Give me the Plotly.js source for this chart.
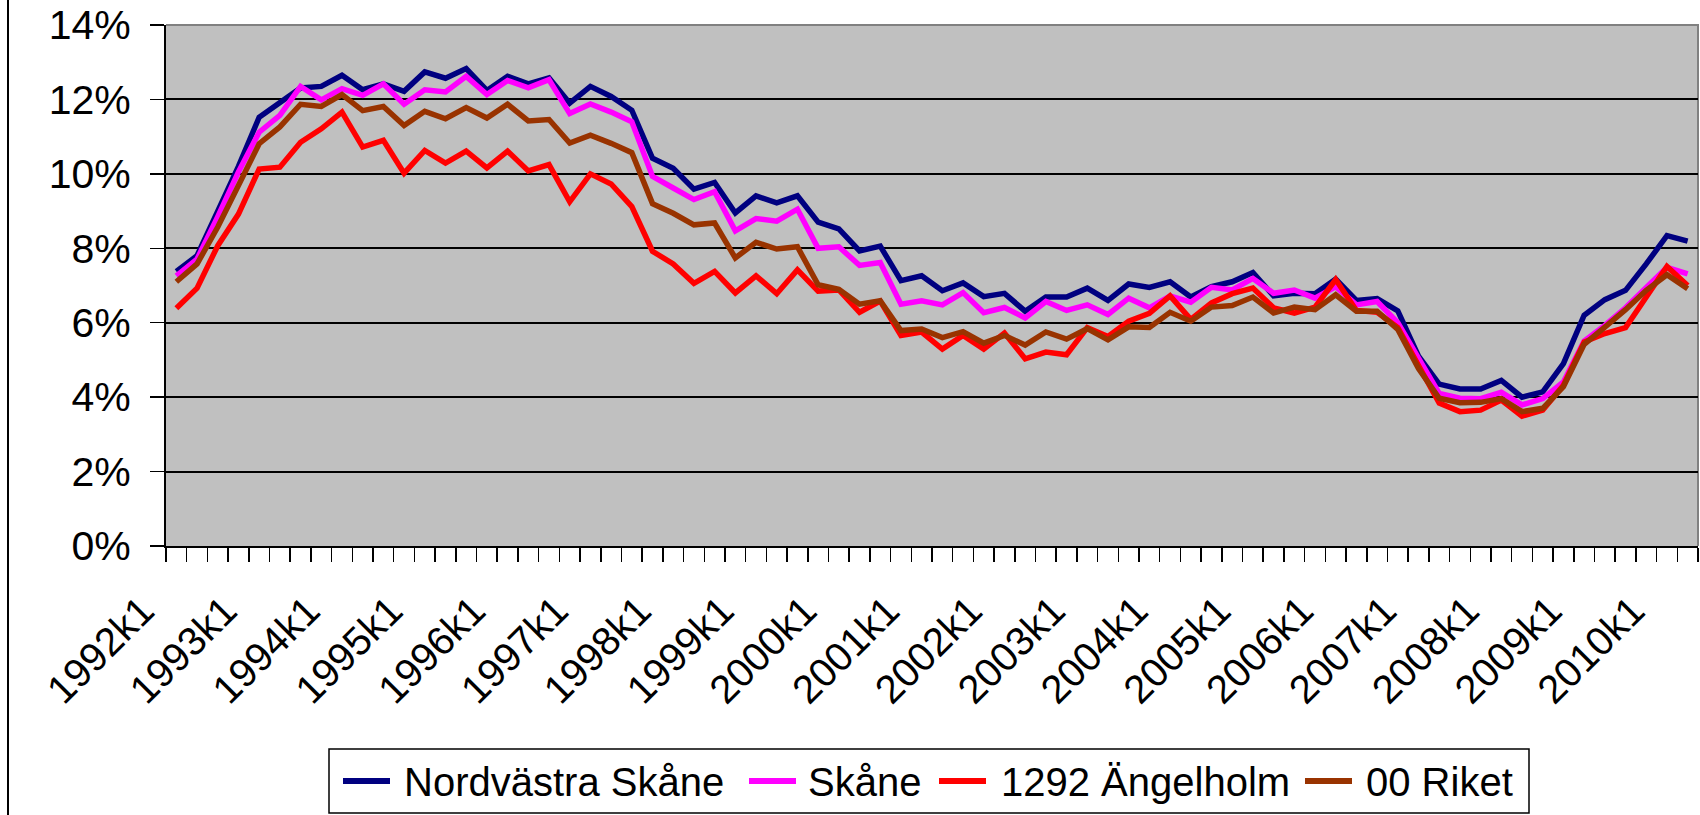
<!DOCTYPE html>
<html>
<head>
<meta charset="utf-8">
<script src="https://cdn.plot.ly/plotly-3.0.1.min.js"></script>
<style>html,body{margin:0;padding:0;background:#fff;}#chart{width:1700px;height:815px;}</style>
</head>
<body>
<div id="chart"></div>
<script>
var categories = [
"1992k1","1992k2","1992k3","1992k4","1993k1","1993k2","1993k3","1993k4",
"1994k1","1994k2","1994k3","1994k4","1995k1","1995k2","1995k3","1995k4",
"1996k1","1996k2","1996k3","1996k4","1997k1","1997k2","1997k3","1997k4",
"1998k1","1998k2","1998k3","1998k4","1999k1","1999k2","1999k3","1999k4",
"2000k1","2000k2","2000k3","2000k4","2001k1","2001k2","2001k3","2001k4",
"2002k1","2002k2","2002k3","2002k4","2003k1","2003k2","2003k3","2003k4",
"2004k1","2004k2","2004k3","2004k4","2005k1","2005k2","2005k3","2005k4",
"2006k1","2006k2","2006k3","2006k4","2007k1","2007k2","2007k3","2007k4",
"2008k1","2008k2","2008k3","2008k4","2009k1","2009k2","2009k3","2009k4",
"2010k1","2010k2"
];
var tickLabels = ["1992k1","1993k1","1994k1","1995k1","1996k1","1997k1","1998k1","1999k1","2000k1","2001k1","2002k1","2003k1","2004k1","2005k1","2006k1","2007k1","2008k1","2009k1","2010k1"];

var nordvastraSkane = [7.38,7.80,9.00,10.20,11.52,11.93,12.31,12.35,12.65,12.26,12.42,12.22,12.74,12.57,12.83,12.24,
12.62,12.42,12.58,11.90,12.35,12.08,11.71,10.42,10.15,9.59,9.77,8.95,9.41,9.22,9.41,8.70,
8.52,7.93,8.06,7.13,7.26,6.86,7.07,6.70,6.79,6.31,6.69,6.69,6.93,6.60,7.04,6.95,
7.10,6.69,6.97,7.10,7.35,6.72,6.79,6.78,7.17,6.60,6.65,6.32,5.10,4.35,4.22,4.22,
4.45,4.00,4.14,4.90,6.20,6.62,6.87,7.58,8.34,8.19];
var skane = [7.26,7.71,8.85,10.05,11.12,11.57,12.35,11.99,12.29,12.11,12.42,11.87,12.26,12.20,12.62,12.13,
12.51,12.31,12.53,11.62,11.88,11.66,11.40,9.93,9.62,9.31,9.52,8.47,8.80,8.73,9.05,8.00,
8.04,7.54,7.62,6.50,6.59,6.48,6.81,6.27,6.41,6.13,6.57,6.33,6.48,6.22,6.66,6.40,
6.72,6.55,6.95,6.88,7.19,6.79,6.88,6.66,6.97,6.48,6.57,6.00,5.05,4.10,3.97,3.96,
4.13,3.79,3.96,4.41,5.51,5.93,6.40,6.96,7.49,7.31];
var angelholm = [6.39,6.93,8.07,8.92,10.13,10.18,10.85,11.21,11.66,10.72,10.90,10.02,10.63,10.29,10.61,10.16,
10.61,10.08,10.25,9.25,10.00,9.73,9.12,7.92,7.58,7.06,7.38,6.80,7.26,6.78,7.42,6.85,
6.88,6.28,6.58,5.66,5.75,5.29,5.66,5.29,5.72,5.03,5.21,5.14,5.87,5.63,6.04,6.25,
6.72,6.09,6.53,6.78,6.93,6.40,6.26,6.42,7.16,6.33,6.28,5.87,4.85,3.84,3.61,3.65,
3.92,3.49,3.65,4.32,5.48,5.71,5.87,6.67,7.51,7.00];
var riket = [7.10,7.58,8.57,9.73,10.81,11.26,11.87,11.81,12.13,11.70,11.81,11.30,11.68,11.48,11.78,11.50,
11.87,11.42,11.46,10.83,11.04,10.82,10.57,9.20,8.94,8.63,8.68,7.74,8.16,7.98,8.04,7.02,
6.90,6.50,6.59,5.79,5.83,5.60,5.76,5.45,5.66,5.40,5.75,5.56,5.84,5.54,5.89,5.87,
6.28,6.04,6.42,6.46,6.69,6.26,6.42,6.35,6.75,6.31,6.31,5.82,4.77,3.97,3.85,3.86,
3.96,3.61,3.70,4.28,5.42,5.88,6.35,6.87,7.29,6.91];

var seriesNames = ["Nordvästra Skåne","Skåne","1292 Ängelholm","00 Riket"];
var seriesColors = ["#000080","#FF00FF","#FF0000","#993300"];
var seriesValues = [nordvastraSkane, skane, angelholm, riket];

var font = "Liberation Sans, Arial, sans-serif";
var traces = seriesValues.map(function(vals, k){
  return {
    type: "scatter", mode: "lines",
    x: categories, y: vals.map(function(v){return v/100;}),
    name: seriesNames[k],
    line: {color: seriesColors[k], width: 5.5},
    showlegend: false,
    hoverinfo: "x+y+name"
  };
});

var tickText = categories.map(function(c){ return tickLabels.indexOf(c) >= 0 ? c : ""; });

var L = 166, R = 2, T = 25, B = 269, W = 1700, H = 815;
var pw = W - L - R, ph = H - T - B;
function px(x){ return (x - L) / pw; }
function py(y){ return (H - B - y) / ph; }

// legend layout (pixel positions of the legend box and its entries)
var legendBox = {x0: 329, x1: 1529, y0: 749, y1: 813};
var legendSampleX = [343, 749, 939, 1305];
var legendSampleLen = 47;
var legendTextX = [402, 806, 999, 1364];
var legendMidY = 781;

var shapes = [
  {type: "path", xref: "paper", yref: "paper",
   path: "M0,1 L1,1 L1,0", line: {color: "#808080", width: 2}, layer: "between"},
  {type: "line", xref: "paper", yref: "paper",
   x0: px(8), x1: px(8), y0: py(815), y1: py(0), line: {color: "#000", width: 2}},
  {type: "rect", xref: "paper", yref: "paper",
   x0: px(legendBox.x0), x1: px(legendBox.x1), y0: py(legendBox.y1), y1: py(legendBox.y0),
   line: {color: "#000", width: 1.5}, fillcolor: "#ffffff"}
];
var annotations = [];
seriesNames.forEach(function(n, k){
  shapes.push({type: "line", xref: "paper", yref: "paper",
    x0: px(legendSampleX[k]), x1: px(legendSampleX[k] + legendSampleLen),
    y0: py(legendMidY), y1: py(legendMidY),
    line: {color: seriesColors[k], width: 6}});
  annotations.push({xref: "paper", yref: "paper",
    x: px(legendTextX[k]), y: py(legendMidY + 1),
    xanchor: "left", yanchor: "middle", showarrow: false,
    text: n, font: {family: font, size: 40, color: "#000"}});
});

var layout = {
  width: W, height: H,
  margin: {l: L, r: R, t: T, b: B, pad: 0},
  paper_bgcolor: "#ffffff",
  plot_bgcolor: "#C0C0C0",
  font: {family: font, size: 40, color: "#000"},
  showlegend: false,
  xaxis: {
    type: "category",
    categoryorder: "array", categoryarray: categories,
    range: [-0.5, categories.length - 0.5],
    tickmode: "array", tickvals: categories, ticktext: tickText,
    tickson: "boundaries",
    ticks: "outside", ticklen: 14, tickwidth: 1.5, tickcolor: "#000",
    tickangle: -45,
    ticklabelstandoff: 23,
    ticklabelshift: -34,
    tickfont: {family: font, size: 40, color: "#000"},
    showgrid: false,
    showline: true, linecolor: "#000", linewidth: 2,
    zeroline: false, fixedrange: true
  },
  yaxis: {
    range: [0, 0.14],
    tickmode: "linear", tick0: 0, dtick: 0.02,
    tickformat: ".0%",
    ticks: "outside", ticklen: 14, tickwidth: 1.5, tickcolor: "#000",
    ticklabelstandoff: 11,
    tickfont: {family: font, size: 41, color: "#000"},
    showgrid: true, gridcolor: "#000", gridwidth: 2,
    showline: true, linecolor: "#000", linewidth: 2,
    zeroline: false, fixedrange: true
  },
  shapes: shapes,
  annotations: annotations
};

Plotly.newPlot("chart", traces, layout, {displayModeBar: false, staticPlot: true});
</script>
</body>
</html>
